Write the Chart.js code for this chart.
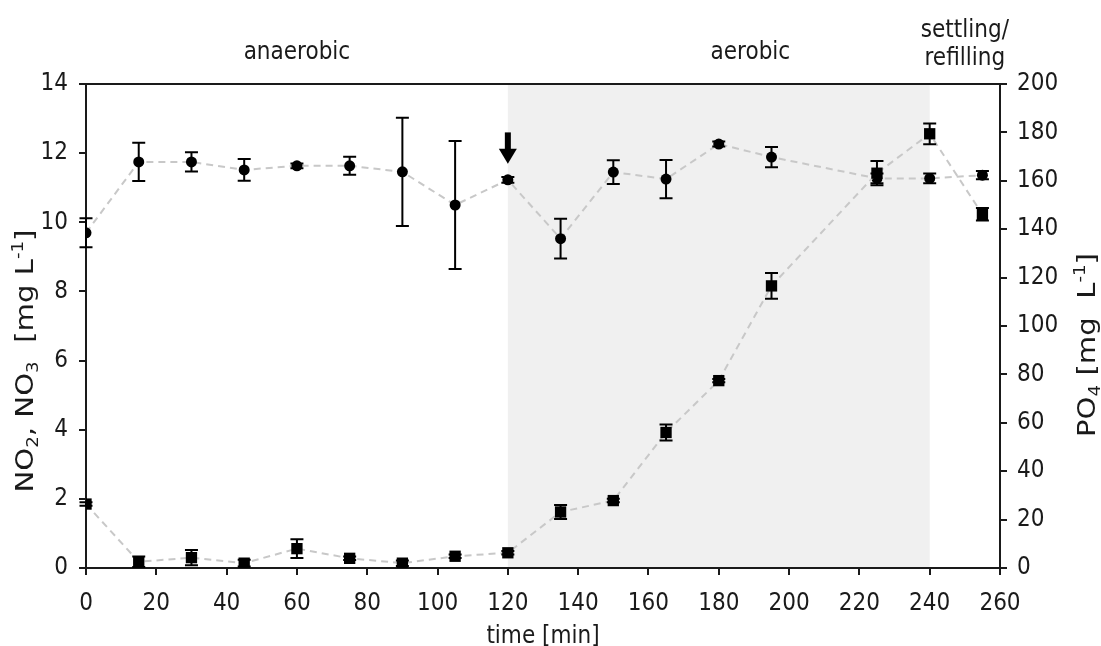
<!DOCTYPE html>
<html>
<head>
<meta charset="utf-8">
<title>NO3 and PO4 during one SBR cycle</title>
<script src="https://cdn.jsdelivr.net/npm/chart.js"></script>
<style>
  body { margin: 0; background: #fff; }
  #wrap { width: 1101px; height: 646px; }
</style>
</head>
<body>
<div id="wrap"><canvas id="cycleChart"></canvas></div>
<script>
// sampling times [min]
const times = [0, 15, 30, 45, 60, 75, 90, 105, 120, 135, 150, 165, 180, 195, 225, 240, 255];

// NO3 [mg/L], left axis (squares)
const no3    = [1.85, 0.18, 0.30, 0.14, 0.56, 0.28, 0.14, 0.34, 0.44, 1.62, 1.95, 3.92, 5.42, 8.16, 11.42, 12.56, 10.23];
const no3Err = [0.05, 0.15, 0.22, 0.10, 0.27, 0.05, 0.08, 0.05, 0.05, 0.20, 0.05, 0.23, 0.05, 0.37, 0.35, 0.30, 0.18];

// PO4 [mg/L], right axis (circles)
const po4    = [138.5, 167.8, 167.8, 164.5, 166.2, 166.2, 163.7, 150.0, 160.4, 136.1, 163.6, 160.7, 175.2, 169.8, 161.0, 161.0, 162.3];
const po4Err = [6.0, 7.9, 4.0, 4.5, 1.0, 3.7, 22.4, 26.4, 1.2, 8.2, 4.9, 7.9, 1.0, 4.2, 2.0, 2.0, 1.7];

const aerobicFrom = 120;
const aerobicTo = 240;
const phaseNames = ['anaerobic', 'aerobic', ['settling/', 'refilling']];

const FONT = "'DejaVu Sans Condensed', 'DejaVu Sans', sans-serif";
const INK = '#1a1a1a';

// draws a run of text with sub/superscripts, rotated -90deg, stretched to `len` px
function drawRotatedRich(ctx, parts, cx, cy, size, len) {
  const small = Math.round(size * 0.62);
  ctx.save();
  let total = 0;
  parts.forEach(p => {
    ctx.font = (p.sub || p.sup ? small : size) + 'px ' + FONT;
    p.w = ctx.measureText(p.t).width;
    total += p.w;
  });
  const k = len / total;
  ctx.translate(cx, cy);
  ctx.rotate(-Math.PI / 2);
  ctx.scale(k, 1);
  ctx.fillStyle = INK;
  ctx.textBaseline = 'alphabetic';
  let x = -total / 2;
  parts.forEach(p => {
    ctx.font = (p.sub || p.sup ? small : size) + 'px ' + FONT;
    const dy = p.sub ? size * 0.2 : p.sup ? -size * 0.42 : 0;
    ctx.fillText(p.t, x, dy);
    x += p.w;
  });
  ctx.restore();
}

const cyclePlugin = {
  id: 'cycle',
  beforeDraw(chart) {
    const { ctx, chartArea: a, scales: { x } } = chart;
    const x0 = x.getPixelForValue(aerobicFrom);
    const x1 = x.getPixelForValue(aerobicTo);
    ctx.save();
    ctx.fillStyle = '#f0f0f0';
    ctx.fillRect(x0, a.top, x1 - x0, a.bottom - a.top);
    ctx.restore();
  },
  afterDatasetsDraw(chart) {
    const { ctx } = chart;
    ctx.save();
    ctx.strokeStyle = '#000';
    ctx.lineWidth = 2;
    chart.data.datasets.forEach((ds, i) => {
      const meta = chart.getDatasetMeta(i);
      const ys = chart.scales[ds.yAxisID];
      ds.data.forEach((p, j) => {
        const e = ds.errors[j];
        const px = meta.data[j].x;
        const top = ys.getPixelForValue(p.y + e);
        const bot = ys.getPixelForValue(p.y - e);
        ctx.beginPath();
        ctx.moveTo(px, top); ctx.lineTo(px, bot);
        ctx.moveTo(px - 6.5, top); ctx.lineTo(px + 6.5, top);
        ctx.moveTo(px - 6.5, bot); ctx.lineTo(px + 6.5, bot);
        ctx.stroke();
      });
    });
    ctx.restore();
  },
  afterDraw(chart) {
    const { ctx, chartArea: a, scales: { x, y1 } } = chart;
    ctx.save();

    // top frame line
    ctx.strokeStyle = INK;
    ctx.lineWidth = 2;
    ctx.beginPath();
    ctx.moveTo(a.left - 7, a.top);
    ctx.lineTo(a.right, a.top);
    ctx.stroke();

    // phase names above the plot
    ctx.fillStyle = INK;
    ctx.font = '24px ' + FONT;
    ctx.textAlign = 'center';
    ctx.textBaseline = 'alphabetic';
    ctx.fillText(phaseNames[0], x.getPixelForValue(60), 59);
    ctx.fillText(phaseNames[1], x.getPixelForValue(189), 59);
    ctx.fillText(phaseNames[2][0], x.getPixelForValue(250), 37);
    ctx.fillText(phaseNames[2][1], x.getPixelForValue(250), 65);

    // x axis title
    ctx.fillText('time [min]', (a.left + a.right) / 2, 643);

    // arrow marking the start of aeration
    const ax = x.getPixelForValue(aerobicFrom);
    const aTop = y1.getPixelForValue(180);
    const aTip = y1.getPixelForValue(167);
    ctx.fillStyle = '#000';
    ctx.fillRect(ax - 3, aTop, 6, aTip - aTop - 12);
    ctx.beginPath();
    ctx.moveTo(ax - 9, aTip - 15);
    ctx.lineTo(ax + 9, aTip - 15);
    ctx.lineTo(ax, aTip);
    ctx.closePath();
    ctx.fill();
    ctx.restore();

    // rotated axis titles
    drawRotatedRich(ctx, [
      { t: 'NO' }, { t: '2', sub: true }, { t: ', NO' }, { t: '3', sub: true },
      { t: '  [mg L' }, { t: '-1', sup: true }, { t: ']' }
    ], 33, 361, 24, 263);
    drawRotatedRich(ctx, [
      { t: 'PO' }, { t: '4', sub: true }, { t: ' [mg  L' }, { t: '-1', sup: true }, { t: ']' }
    ], 1095, 345, 24, 184);
  }
};

const axisGrid = { drawOnChartArea: false, drawTicks: true, tickLength: 7, color: INK, lineWidth: 2 };
const tickFont = { family: FONT, size: 24 };

new Chart(document.getElementById('cycleChart'), {
  type: 'scatter',
  data: {
    datasets: [
      {
        label: 'NO3',
        data: times.map((t, i) => ({ x: t, y: no3[i] })),
        errors: no3Err,
        yAxisID: 'y',
        showLine: true,
        borderColor: '#c8c8c8',
        borderWidth: 2,
        borderDash: [7, 5],
        pointStyle: 'rect',
        pointRadius: 8,
        pointBackgroundColor: '#000',
        pointBorderColor: '#000',
        pointBorderWidth: 0
      },
      {
        label: 'PO4',
        data: times.map((t, i) => ({ x: t, y: po4[i] })),
        errors: po4Err,
        yAxisID: 'y1',
        showLine: true,
        borderColor: '#c8c8c8',
        borderWidth: 2,
        borderDash: [7, 5],
        pointStyle: 'circle',
        pointRadius: 5.5,
        pointBackgroundColor: '#000',
        pointBorderColor: '#000',
        pointBorderWidth: 0
      }
    ]
  },
  options: {
    responsive: true,
    maintainAspectRatio: false,
    animation: false,
    events: [],
    layout: { padding: { top: 84, left: 0, right: 0, bottom: 0 } },
    plugins: { legend: { display: false }, tooltip: { enabled: false } },
    scales: {
      x: {
        type: 'linear', position: 'bottom', min: 0, max: 260,
        ticks: { stepSize: 20, font: tickFont, color: INK, padding: 14, maxRotation: 0 },
        grid: axisGrid,
        border: { color: INK, width: 2 },
        afterFit: s => { s.height = 78; }
      },
      y: {
        position: 'left', min: 0, max: 14,
        ticks: { stepSize: 2, font: tickFont, color: INK, padding: 11 },
        grid: axisGrid,
        border: { color: INK, width: 2 },
        afterFit: s => { s.width = 86; }
      },
      y1: {
        position: 'right', min: 0, max: 200,
        ticks: { stepSize: 20, font: tickFont, color: INK, padding: 10 },
        grid: axisGrid,
        border: { color: INK, width: 2 },
        afterFit: s => { s.width = 101; }
      }
    }
  },
  plugins: [cyclePlugin]
});
</script>
</body>
</html>
